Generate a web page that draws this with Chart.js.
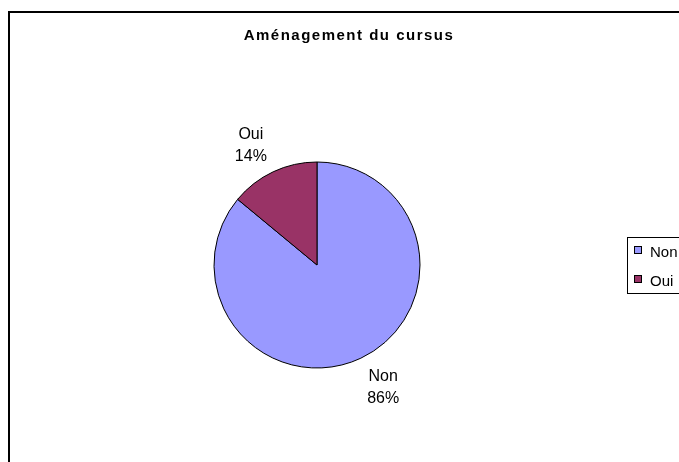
<!DOCTYPE html>
<html>
<head>
<meta charset="utf-8">
<script src="https://cdn.jsdelivr.net/npm/chart.js@4"></script>
<style>
  body { margin: 0; background: #fff; }
  canvas { display: block; }
</style>
</head>
<body>
<canvas id="pieChart" width="679" height="462"></canvas>
<script>
// données du graphique
const titre = 'Aménagement du cursus';
const categories = ['Non', 'Oui'];
const valeurs = [86, 14];
const couleurs = ['#9999ff', '#993366'];

const police = '"Liberation Sans", Arial, sans-serif';

// cadre, titre, légende et étiquettes façon Excel
const habillage = {
  id: 'habillage',
  afterDraw(chart) {
    const ctx = chart.ctx;
    const meta = chart.getDatasetMeta(0);
    const total = valeurs.reduce((a, b) => a + b, 0);
    ctx.save();

    // cadre extérieur
    ctx.strokeStyle = '#000';
    ctx.lineWidth = 2;
    ctx.strokeRect(9, 12, 700, 480);

    // titre
    ctx.fillStyle = '#000';
    ctx.textAlign = 'center';
    ctx.textBaseline = 'alphabetic';
    ctx.font = 'bold 15px ' + police;
    ctx.letterSpacing = '1.5px';
    ctx.fillText(titre, 349, 40);
    ctx.letterSpacing = '0px';

    // étiquettes des secteurs, un peu décalées vers la gauche comme dans Excel
    ctx.font = '16px ' + police;
    meta.data.forEach((arc, i) => {
      const mid = (arc.startAngle + arc.endAngle) / 2 - 0.06;
      const d = arc.outerRadius * 1.34;
      const cx = arc.x + Math.cos(mid) * d;
      const cy = arc.y + Math.sin(mid) * d;
      const pct = Math.round(valeurs[i] / total * 100) + '%';
      ctx.fillText(categories[i], cx, cy - 5);
      ctx.fillText(pct, cx, cy + 17);
    });

    // légende
    ctx.lineWidth = 1;
    ctx.strokeRect(627.5, 237.5, 80, 56);
    ctx.textAlign = 'left';
    ctx.font = '15px ' + police;
    categories.forEach((c, i) => {
      const y = 250 + i * 29;
      ctx.fillStyle = couleurs[i];
      ctx.fillRect(634, y - 3.5, 7, 7);
      ctx.strokeStyle = '#000';
      ctx.strokeRect(634.5, y - 3.5, 7, 7);
      ctx.fillStyle = '#000';
      ctx.fillText(c, 650, y + 6.5);
    });

    ctx.restore();
  }
};

new Chart(document.getElementById('pieChart').getContext('2d'), {
  type: 'pie',
  data: {
    labels: categories,
    datasets: [{
      data: valeurs,
      backgroundColor: couleurs,
      borderColor: '#000',
      borderWidth: 1
    }]
  },
  options: {
    responsive: false,
    animation: false,
    radius: 103,
    layout: { padding: { left: 207, right: 252, top: 155, bottom: 87 } },
    plugins: {
      legend: { display: false },
      title: { display: false },
      tooltip: { enabled: false }
    }
  },
  plugins: [habillage]
});
</script>
</body>
</html>
